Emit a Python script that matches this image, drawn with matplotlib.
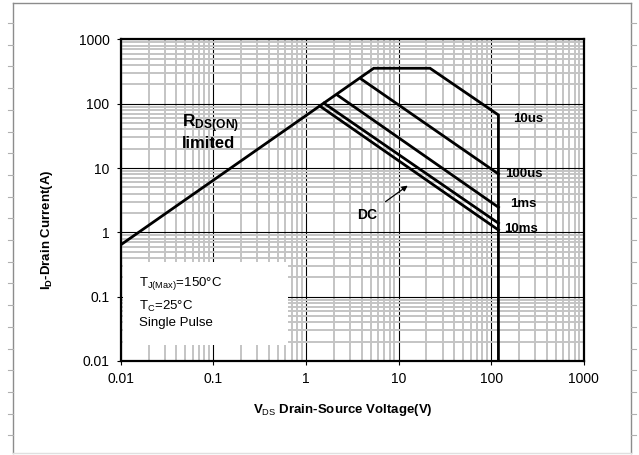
import numpy as np
import matplotlib
matplotlib.use("Agg")
import matplotlib.pyplot as plt
from matplotlib.patches import Rectangle
from matplotlib.lines import Line2D

plt.rcParams['font.family'] = ['Liberation Sans', 'DejaVu Sans']
plt.rcParams['mathtext.fontset'] = 'custom'
plt.rcParams['mathtext.rm'] = 'Liberation Sans'
plt.rcParams['mathtext.bf'] = 'Liberation Sans:bold'

# SOA outline (10us curve incl. RDS(on) limit, flat top and Vds max)
v_10us = [0.01, 5.4, 21.9, 120, 120]
i_10us = [0.64, 357, 357, 67, 0.01]

# other pulse widths (start on RDS line, end at Vds max)
v_100us = [4.0, 120]
i_100us = [240, 8.1]
v_1ms = [2.18, 120]
i_1ms = [137, 2.46]
v_10ms = [1.57, 120]
i_10ms = [102, 1.39]
v_dc = [1.42, 120]
i_dc = [92, 1.09]

curve_labels = ["10us", "100us", "1ms", "10ms"]
label_x = [173, 142, 160, 138]
label_y = [58, 8.1, 2.77, 1.13]

ticks = [0.01, 0.1, 1, 10, 100, 1000]
tick_labels = ["0.01", "0.1", "1", "10", "100", "1000"]

fig = plt.figure(figsize=(6.39, 4.55), dpi=100)
ax = fig.add_axes([120.7/639, 1-361/455, 463/639, 321.5/455])

ax.set_xscale('log')
ax.set_yscale('log')
ax.set_xlim(0.01, 1000)
ax.set_ylim(0.01, 1000)
ax.set_xticks(ticks)
ax.set_xticklabels(tick_labels)
ax.set_yticks(ticks)
ax.set_yticklabels(tick_labels)
ax.tick_params(which='major', length=3, labelsize=10, pad=5)
ax.tick_params(which='minor', length=0)
ax.minorticks_on()
ax.xaxis.set_minor_formatter(plt.NullFormatter())
ax.yaxis.set_minor_formatter(plt.NullFormatter())

ax.set_axisbelow(True)
ax.grid(which='minor', color='#c4c4c4', linewidth=1.4)
ax.grid(which='major', color='black', linewidth=0.8)
for s in ax.spines.values():
    s.set_linewidth(1.6)

# white box for the conditions text
ax.add_patch(Rectangle((0.0105, 0.0177), 0.64-0.0105, 0.347-0.0177,
                       facecolor='white', edgecolor='none', zorder=1.5))

lw = 2.0
ax.plot(v_10us, i_10us, color='black', lw=lw, zorder=3, solid_joinstyle='miter')
ax.plot(v_100us, i_100us, color='black', lw=lw, zorder=3)
ax.plot(v_1ms, i_1ms, color='black', lw=lw, zorder=3)
ax.plot(v_10ms, i_10ms, color='black', lw=lw, zorder=3)
ax.plot(v_dc, i_dc, color='black', lw=lw, zorder=3)

for t, x, y in zip(curve_labels, label_x, label_y):
    ax.text(x, y, t, fontsize=9.5, fontweight='bold', va='center', ha='left', zorder=4)

ax.text(4.63, 1.86, "DC", fontsize=10, fontweight='bold', ha='center', va='center', zorder=4)
ax.annotate("", xy=(13.3, 5.66), xytext=(6.85, 2.84),
            arrowprops=dict(arrowstyle='-|>', color='black', lw=0.9, mutation_scale=8), zorder=4)

ax.text(0.0456, 48.5, r"$\mathbf{R_{DS(ON)}}$", fontsize=12.5, ha='left', va='center', zorder=4)
ax.text(0.0456, 24.5, "limited", fontsize=12, fontweight='bold', ha='left', va='center', zorder=4)

ax.text(0.0159, 0.163, r"T$_{\mathregular{J(Max)}}$=150°C", fontsize=9.5, ha='left', va='center', zorder=4)
ax.text(0.0159, 0.0717, r"T$_{\mathregular{C}}$=25°C", fontsize=9.5, ha='left', va='center', zorder=4)
ax.text(0.0159, 0.0394, "Single Pulse", fontsize=9.5, ha='left', va='center', zorder=4)

fig.text(343/639, 1-410/455, r"$\mathbf{V}_{\mathrm{DS}}$ Drain-Source Voltage(V)",
         fontsize=9.5, fontweight='bold', ha='center', va='center')
fig.text(46.7/639, 1-230/455, r"$\mathbf{I_{D}}$-Drain Current(A)",
         fontsize=9.5, fontweight='bold', ha='center', va='center', rotation=90)

# page frame
def px_line(x0, y0, x1, y1, c='#8c8c8c', w=1.0):
    fig.add_artist(Line2D([x0/639, x1/639], [1-y0/455, 1-y1/455], color=c, lw=w))

px_line(12.7, 2.7, 630.7, 2.7)
px_line(12.7, 2.7, 12.7, 453)
px_line(630.7, 2.7, 630.7, 453)
px_line(12.7, 452.7, 630.7, 452.7, c='#e0e0e0')
for yy in np.arange(23, 450, 21.7):
    px_line(8, yy, 12.7, yy, c='#b0b0b0', w=0.8)
    px_line(630.7, yy, 636, yy, c='#b0b0b0', w=0.8)

fig.savefig("out.png", dpi=100)
